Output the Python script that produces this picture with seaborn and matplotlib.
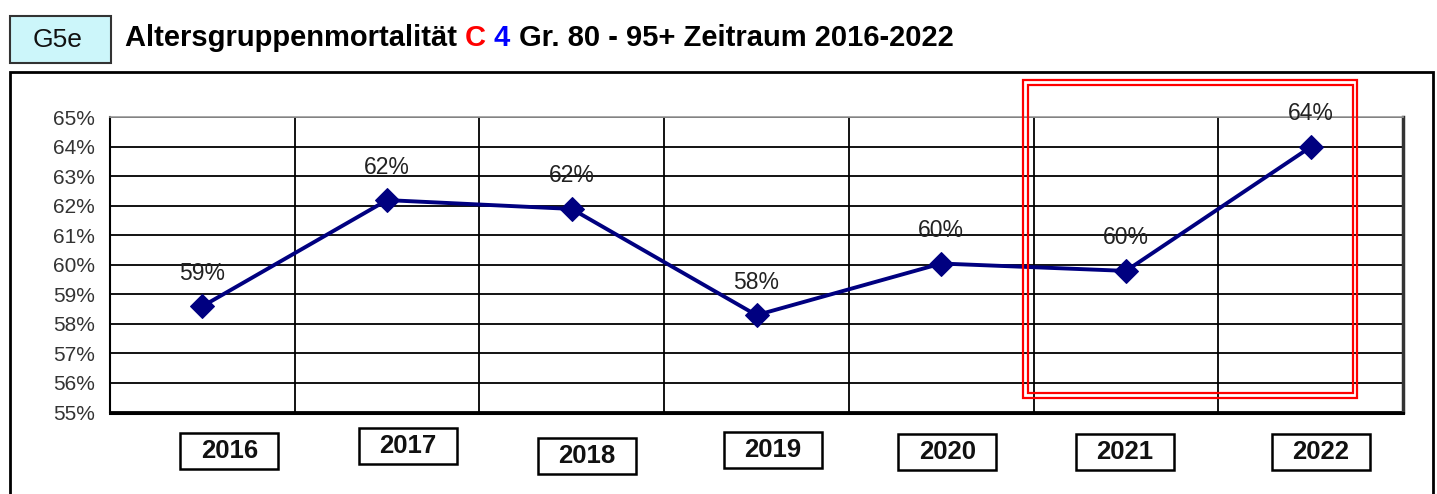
import matplotlib
matplotlib.use("Agg")
import matplotlib.pyplot as plt
from matplotlib.patches import Rectangle
from matplotlib.transforms import IdentityTransform
import numpy as np
import pandas as pd
import seaborn as sns

# Data
years = [2016, 2017, 2018, 2019, 2020, 2021, 2022]
mortality_pct = [58.6, 62.2, 61.9, 58.3, 60.05, 59.8, 64.0]
value_labels = ["59%", "62%", "62%", "58%", "60%", "60%", "64%"]
year_labels = ["2016", "2017", "2018", "2019", "2020", "2021", "2022"]
y_ticks = [55, 56, 57, 58, 59, 60, 61, 62, 63, 64, 65]
y_tick_labels = [f"{v}%" for v in y_ticks]
title_parts = [("Altersgruppenmortalität ", "black"), ("C ", "#ff0000"),
               ("4 ", "#0000ff"), ("Gr. 80 - 95+ Zeitraum 2016-2022", "black")]
badge_text = "G5e"

sns.set_style("white")
plt.rcParams["font.family"] = ["Liberation Sans", "DejaVu Sans"]

W, H = 1437, 494
fig = plt.figure(figsize=(W / 100, H / 100), dpi=100)
fig.patch.set_facecolor("white")

# plot area in pixel coordinates (top-left origin)
left, right, top, bottom = 110, 1403, 117.5, 412.5
ax = fig.add_axes([left / W, 1 - bottom / H, (right - left) / W, (bottom - top) / H])

df = pd.DataFrame({"year": years, "pct": mortality_pct})
navy = "#000080"
sns.lineplot(data=df, x="year", y="pct", ax=ax, color=navy, linewidth=2.8,
             marker="D", markersize=12, markeredgecolor=navy, markerfacecolor=navy)

ax.set_xlim(years[0] - 0.5, years[-1] + 0.5)
ax.set_ylim(y_ticks[0], y_ticks[-1])
ax.set_yticks(y_ticks)
ax.set_yticklabels(y_tick_labels, fontsize=15, color="#333333")
ax.set_xlabel("")
ax.set_ylabel("")

# category boundaries as vertical grid lines
bounds = np.arange(years[0] - 0.5, years[-1] + 1.0, 1.0)
ax.set_xticks(years)
ax.set_xticklabels([])
ax.set_xticks(bounds, minor=True)
ax.tick_params(axis="x", which="major", length=0)
ax.tick_params(axis="x", which="minor", length=6, color="#cccccc", direction="out")
ax.tick_params(axis="y", length=8, width=1.2, color="black", direction="out", pad=3)
ax.grid(True, axis="y", which="major", color="black", linewidth=1.3)
ax.grid(True, axis="x", which="minor", color="black", linewidth=1.3)
ax.grid(False, axis="x", which="major")

for side, col, lw in [("left", "black", 1.5), ("bottom", "black", 2.2),
                      ("right", "#333333", 2.5), ("top", "#999999", 1.2)]:
    ax.spines[side].set_visible(True)
    ax.spines[side].set_color(col)
    ax.spines[side].set_linewidth(lw)

# value labels above the markers
for x, v, lab in zip(years, mortality_pct, value_labels):
    ax.annotate(lab, xy=(x, v), xytext=(0, 33), textcoords="offset pixels",
                ha="center", va="center", fontsize=16.5, color="#222222")

# boxed year labels below the plot area
box_offsets = [(27, 0), (21, -5), (15, 5), (16, -1), (6, 1), (-1, 1), (10, 1)]
fig.canvas.draw()
for x, lab, (dx, dy) in zip(years, year_labels, box_offsets):
    px, _ = ax.transData.transform((x, y_ticks[0]))
    cx = px + dx
    cy = H - (451 + dy)
    fig.add_artist(Rectangle((cx - 49, cy - 18), 98, 36, transform=IdentityTransform(),
                             facecolor="white", edgecolor="black", linewidth=1.8))
    fig.text(cx / W, cy / H, lab, ha="center", va="center", fontsize=18.5,
             fontweight="bold", color="#111111")

# outer chart frame
fig.add_artist(Rectangle((10, -5), 1423, H - 72 + 5, transform=IdentityTransform(),
                         facecolor="none", edgecolor="black", linewidth=2))

# highlight frame (double red rectangle)
for x0, y0, x1, y1 in [(1023, 80, 1357, 398), (1028, 84.5, 1352.5, 393)]:
    fig.add_artist(Rectangle((x0, H - y1), x1 - x0, y1 - y0, transform=IdentityTransform(),
                             facecolor="none", edgecolor="#ff0000", linewidth=1.6, zorder=10))

# badge
fig.add_artist(Rectangle((10, H - 63), 101, 47, transform=IdentityTransform(),
                         facecolor="#ccf6fa", edgecolor="#333333", linewidth=1.5))
fig.text(58 / W, 1 - 40 / H, badge_text, ha="center", va="center", fontsize=19, color="#111111")

# title, assembled from coloured pieces
renderer = fig.canvas.get_renderer()
xpos = 125
for txt, col in title_parts:
    t = fig.text(xpos / W, 1 - 38 / H, txt, ha="left", va="center", fontsize=21,
                 fontweight="bold", color=col)
    bb = t.get_window_extent(renderer=renderer)
    xpos += bb.width

fig.savefig("out.png", dpi=100, facecolor="white")
